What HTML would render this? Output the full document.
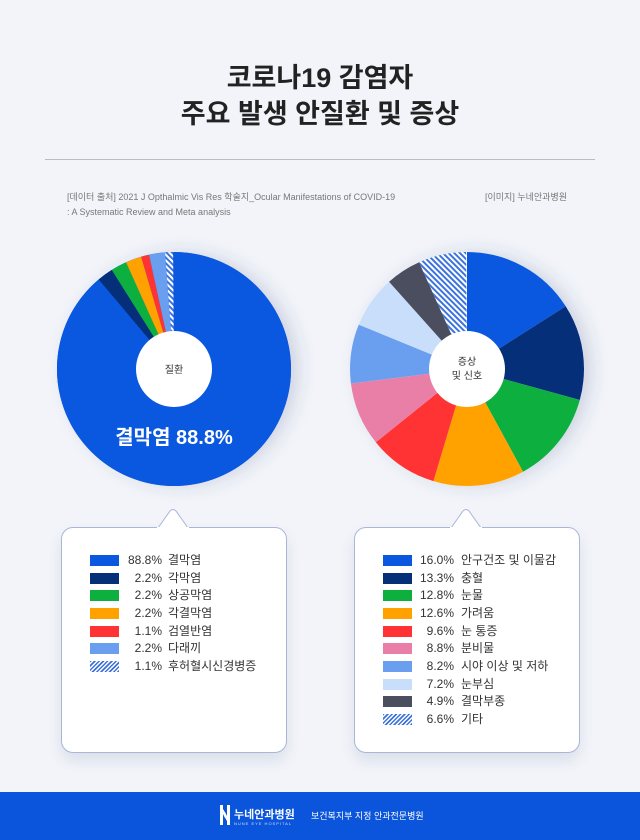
<!DOCTYPE html>
<html><head><meta charset="utf-8"><style>
body{margin:0;width:640px;height:840px;background:#f2f4f9;font-family:"Liberation Sans","Noto Sans CJK KR",sans-serif;position:relative;overflow:hidden}
.t{position:absolute;left:0;width:640px;text-align:center;font-size:27px;font-weight:bold;color:#222}
.src{position:absolute;font-size:9px;color:#777;line-height:15px}
.box{position:absolute;top:527px;height:224px;background:#fff;border:1px solid #a9b6d8;border-radius:12px;box-shadow:0 8px 14px rgba(60,80,130,0.12)}
.row{position:absolute;font-size:12px;color:#333;height:18px;line-height:18px}
.sw{position:absolute;width:29px;height:11px;top:4px}
.pc{position:absolute;text-align:right;width:60px}
.lb{position:absolute;white-space:nowrap}
</style></head><body>
<div class="t" style="top:56px">코로나19 감염자</div>
<div class="t" style="top:92px">주요 발생 안질환 및 증상</div>
<div style="position:absolute;left:45px;top:159px;width:550px;height:1px;background:#b8bcc6"></div>
<div class="src" style="left:67px;top:190px">[데이터 출처] 2021 J Opthalmic Vis Res 학술지_Ocular Manifestations of COVID-19<br>: A Systematic Review and Meta analysis</div>
<div class="src" style="left:485px;top:190px">[이미지] 누네안과병원</div>
<svg width="640" height="840" style="position:absolute;left:0;top:0">
<defs>
<pattern id="h" width="4" height="4" patternUnits="userSpaceOnUse" patternTransform="rotate(45)"><rect width="4" height="4" fill="#fff"/><rect width="2" height="4" fill="#3d74dc"/></pattern>
<filter id="sh" x="-20%" y="-20%" width="140%" height="150%"><feDropShadow dx="0" dy="8" stdDeviation="8" flood-color="#3a4a80" flood-opacity="0.18"/></filter>
</defs>
<g transform="translate(174,369) rotate(-90)" fill="none" stroke-width="117">
<circle r="117" fill="#0a57e0" stroke="none" filter="url(#sh)"/>
<circle r="58.5" pathLength="99.8" stroke="#0a57e0" stroke-dasharray="88.8 200" stroke-dashoffset="0"/>
<circle r="58.5" pathLength="99.8" stroke="#062f7a" stroke-dasharray="2.2 200" stroke-dashoffset="-88.8"/>
<circle r="58.5" pathLength="99.8" stroke="#0db03e" stroke-dasharray="2.2 200" stroke-dashoffset="-91"/>
<circle r="58.5" pathLength="99.8" stroke="#ffa200" stroke-dasharray="2.2 200" stroke-dashoffset="-93.2"/>
<circle r="58.5" pathLength="99.8" stroke="#ff3333" stroke-dasharray="1.1 200" stroke-dashoffset="-95.4"/>
<circle r="58.5" pathLength="99.8" stroke="#6a9ff0" stroke-dasharray="2.2 200" stroke-dashoffset="-96.5"/>
<circle r="58.5" pathLength="99.8" stroke="url(#h)" stroke-dasharray="1.1 200" stroke-dashoffset="-98.7"/>
<circle r="38" fill="#fff" stroke="none"/>
</g>
<g transform="translate(467,369) rotate(-90)" fill="none" stroke-width="117">
<circle r="117" fill="#fff" stroke="none" filter="url(#sh)"/>
<circle r="58.5" pathLength="100" stroke="#0a57e0" stroke-dasharray="16 200" stroke-dashoffset="0"/>
<circle r="58.5" pathLength="100" stroke="#062f7a" stroke-dasharray="13.3 200" stroke-dashoffset="-16"/>
<circle r="58.5" pathLength="100" stroke="#0db03e" stroke-dasharray="12.8 200" stroke-dashoffset="-29.3"/>
<circle r="58.5" pathLength="100" stroke="#ffa200" stroke-dasharray="12.6 200" stroke-dashoffset="-42.1"/>
<circle r="58.5" pathLength="100" stroke="#ff3333" stroke-dasharray="9.6 200" stroke-dashoffset="-54.7"/>
<circle r="58.5" pathLength="100" stroke="#e97fa6" stroke-dasharray="8.8 200" stroke-dashoffset="-64.3"/>
<circle r="58.5" pathLength="100" stroke="#6a9ff0" stroke-dasharray="8.2 200" stroke-dashoffset="-73.1"/>
<circle r="58.5" pathLength="100" stroke="#c9defa" stroke-dasharray="7.2 200" stroke-dashoffset="-81.3"/>
<circle r="58.5" pathLength="100" stroke="#4a4e5e" stroke-dasharray="4.9 200" stroke-dashoffset="-88.5"/>
<circle r="58.5" pathLength="100" stroke="url(#h)" stroke-dasharray="6.6 200" stroke-dashoffset="-93.4"/>
<circle r="38" fill="#fff" stroke="none"/>
</g>
<text x="174" y="373" text-anchor="middle" font-size="10" fill="#333">질환</text>
<text x="467" y="365" text-anchor="middle" font-size="10" fill="#333">증상</text>
<text x="467" y="379" text-anchor="middle" font-size="10" fill="#333">및 신호</text>
<text x="174" y="444" text-anchor="middle" font-size="20" font-weight="bold" fill="#fff">결막염 88.8%</text>
</svg>
<div class="box" style="left:61px;width:224px"></div>
<div class="box" style="left:354px;width:224px"></div>
<svg width="640" height="40" style="position:absolute;left:0;top:505px">
<path d="M158 23 L170 6 Q173 3 176 6 L188 23" fill="#fff" stroke="#a9b6d8" stroke-width="1"/>
<rect x="157" y="22" width="32" height="3" fill="#fff"/>
<path d="M451 23 L463 6 Q466 3 469 6 L481 23" fill="#fff" stroke="#a9b6d8" stroke-width="1"/>
<rect x="450" y="22" width="32" height="3" fill="#fff"/>
</svg>
<div id="L"></div>
<div class="row" style="left:0;top:551px;width:640px">
<div class="sw" style="left:90px;top:4px;background:#0a57e0"></div><div class="pc" style="left:102px">88.8%</div><div class="lb" style="left:168px">결막염</div>
<div class="sw" style="left:90px;top:22px;background:#062f7a"></div><div class="pc" style="left:102px;top:18px">2.2%</div><div class="lb" style="left:168px;top:18px">각막염</div>
<div class="sw" style="left:90px;top:39px;background:#0db03e"></div><div class="pc" style="left:102px;top:35px">2.2%</div><div class="lb" style="left:168px;top:35px">상공막염</div>
<div class="sw" style="left:90px;top:57px;background:#ffa200"></div><div class="pc" style="left:102px;top:53px">2.2%</div><div class="lb" style="left:168px;top:53px">각결막염</div>
<div class="sw" style="left:90px;top:75px;background:#ff3333"></div><div class="pc" style="left:102px;top:71px">1.1%</div><div class="lb" style="left:168px;top:71px">검열반염</div>
<div class="sw" style="left:90px;top:92px;background:#6a9ff0"></div><div class="pc" style="left:102px;top:88px">2.2%</div><div class="lb" style="left:168px;top:88px">다래끼</div>
<div class="sw" style="left:90px;top:110px;background:repeating-linear-gradient(-45deg,#3d74dc 0 1.5px,#fff 1.5px 3px)"></div><div class="pc" style="left:102px;top:106px">1.1%</div><div class="lb" style="left:168px;top:106px">후허혈시신경병증</div>

<div class="sw" style="left:383px;top:4px;background:#0a57e0"></div><div class="pc" style="left:394px">16.0%</div><div class="lb" style="left:461px">안구건조 및 이물감</div>
<div class="sw" style="left:383px;top:22px;background:#062f7a"></div><div class="pc" style="left:394px;top:18px">13.3%</div><div class="lb" style="left:461px;top:18px">충혈</div>
<div class="sw" style="left:383px;top:39px;background:#0db03e"></div><div class="pc" style="left:394px;top:35px">12.8%</div><div class="lb" style="left:461px;top:35px">눈물</div>
<div class="sw" style="left:383px;top:57px;background:#ffa200"></div><div class="pc" style="left:394px;top:53px">12.6%</div><div class="lb" style="left:461px;top:53px">가려움</div>
<div class="sw" style="left:383px;top:75px;background:#ff3333"></div><div class="pc" style="left:394px;top:71px">9.6%</div><div class="lb" style="left:461px;top:71px">눈 통증</div>
<div class="sw" style="left:383px;top:92px;background:#e97fa6"></div><div class="pc" style="left:394px;top:88px">8.8%</div><div class="lb" style="left:461px;top:88px">분비물</div>
<div class="sw" style="left:383px;top:110px;background:#6a9ff0"></div><div class="pc" style="left:394px;top:106px">8.2%</div><div class="lb" style="left:461px;top:106px">시야 이상 및 저하</div>
<div class="sw" style="left:383px;top:128px;background:#c9defa"></div><div class="pc" style="left:394px;top:124px">7.2%</div><div class="lb" style="left:461px;top:124px">눈부심</div>
<div class="sw" style="left:383px;top:145px;background:#4a4e5e"></div><div class="pc" style="left:394px;top:141px">4.9%</div><div class="lb" style="left:461px;top:141px">결막부종</div>
<div class="sw" style="left:383px;top:163px;background:repeating-linear-gradient(-45deg,#3d74dc 0 1.5px,#fff 1.5px 3px)"></div><div class="pc" style="left:394px;top:159px">6.6%</div><div class="lb" style="left:461px;top:159px">기타</div>
</div>
<div style="position:absolute;left:0;top:792px;width:640px;height:48px;background:#0a55dc"></div>
<div style="position:absolute;left:220px;top:805px;width:10px;height:20px;border-left:3px solid #fff;border-right:3px solid #fff;box-sizing:border-box;background:linear-gradient(60deg,transparent 40%,#fff 40% 60%,transparent 60%)"></div>
<div style="position:absolute;left:234px;top:806px;color:#fff;font-size:11px;font-weight:bold">누네안과병원</div>
<div style="position:absolute;left:234px;top:821px;color:#cfe0ff;font-size:4px;letter-spacing:1px">NUNE EYE HOSPITAL</div>
<div style="position:absolute;left:311px;top:809px;color:#fff;font-size:9px">보건복지부 지정 안과전문병원</div>
</body></html>
